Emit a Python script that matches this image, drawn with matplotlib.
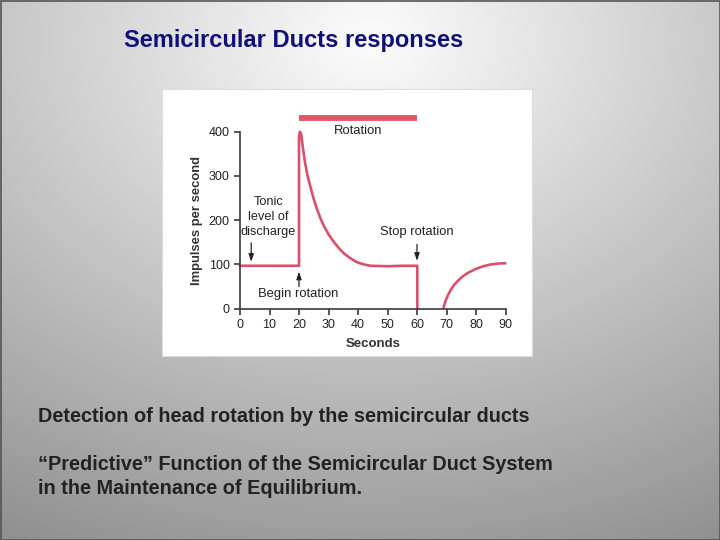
import numpy as np
import matplotlib.pyplot as plt
from matplotlib.patches import Rectangle

# curve (seconds, impulses per second)
sec_before = [0, 20]
imp_before = [97, 97]
sec_rot = [20, 20, 20.3, 20.7, 21.2, 22, 22.8, 23.7, 24.8, 26, 27.1, 28.3, 30, 31.8, 33.5, 35.2,
           37.4, 39.7, 42, 44.2, 50, 55, 60.1, 60.1]
imp_rot = [97, 388, 400, 396, 370, 332, 303, 280, 252, 227, 207, 189, 168, 151, 137, 125,
           114, 105, 100, 97, 96, 97, 97, 0]
sec_after = [68.9, 69.5, 70.3, 71.4, 72.5, 74, 75.5, 77.5, 80, 82.5, 85, 87.5, 90.3]
imp_after = [0, 14, 28, 42, 53, 64, 73, 82, 90, 96, 100, 102, 103]

rotation_span = [20, 60]
x_ticks = [0, 10, 20, 30, 40, 50, 60, 70, 80, 90]
y_ticks = [0, 100, 200, 300, 400]

red = '#d9506a'
axis_col = '#3a3a3a'
plt.rcParams['font.family'] = ['Liberation Sans', 'DejaVu Sans']

fig = plt.figure(figsize=(7.2, 5.4), dpi=100)

# slide background: radial grey gradient
bg = fig.add_axes([0, 0, 1, 1])
yy, xx = np.mgrid[0:540, 0:720]
r = np.sqrt(((xx - 370) / 740.0) ** 2 + ((yy - 40) / 560.0) ** 2)
shade = np.clip(0.99 - 0.42 * r, 0, 1)
bg.imshow(np.dstack([shade] * 3), extent=[0, 720, 540, 0], aspect='auto')
bg.set_xlim(0, 720)
bg.set_ylim(540, 0)
bg.axis('off')
bg.add_patch(Rectangle((0.5, 0.5), 719, 539, fill=False, ec='#555555', lw=1.2))
# white picture box
bg.add_patch(Rectangle((162, 89), 370, 267, fc='white', ec='#dddddd', lw=0.8))

bg.text(124, 40, 'Semicircular Ducts responses', color='#10107a', fontsize=17,
        fontweight='bold', va='center', ha='left')
bg.text(38, 416, 'Detection of head rotation by the semicircular ducts', color='#222222',
        fontsize=14.3, fontweight='bold', va='center', ha='left')
bg.text(38, 464, '\u201cPredictive\u201d Function of the Semicircular Duct System',
        color='#222222', fontsize=14.3, fontweight='bold', va='center', ha='left')
bg.text(38, 489, 'in the Maintenance of Equilibrium.', color='#222222',
        fontsize=14.3, fontweight='bold', va='center', ha='left')

# chart
ax = fig.add_axes([240 / 720, 1 - 308.7 / 540, 265.5 / 720, 177 / 540])
ax.set_facecolor('none')
ax.set_xlim(0, 90)
ax.set_ylim(0, 400)
ax.plot(sec_before + sec_rot, imp_before + imp_rot, color=red, lw=1.9, clip_on=False,
        solid_joinstyle='round')
ax.plot(sec_after, imp_after, color=red, lw=1.9, clip_on=False, solid_capstyle='butt')
ax.plot(rotation_span, [432, 432], color='#e05668', lw=4.2, clip_on=False,
        solid_capstyle='butt')

for s in ['top', 'right']:
    ax.spines[s].set_visible(False)
for s in ['left', 'bottom']:
    ax.spines[s].set_color(axis_col)
    ax.spines[s].set_linewidth(1.2)
ax.set_xticks(x_ticks)
ax.set_yticks(y_ticks)
ax.tick_params(colors=axis_col, labelcolor='#222222', labelsize=9, length=4, width=1.2, pad=3.5)
ax.set_xlabel('Seconds', fontsize=9.5, fontweight='bold', color='#333333', labelpad=5)
ax.set_ylabel('Impulses per second', fontsize=9.4, fontweight='bold', color='#333333', labelpad=4)

ax.text(40, 402, 'Rotation', fontsize=9.4, color='#222222', ha='center', va='center')
ax.text(9.6, 207, 'Tonic\nlevel of\ndischarge', fontsize=9.2, color='#222222',
        ha='center', va='center', linespacing=1.3)
ax.text(60, 174, 'Stop rotation', fontsize=9.4, color='#222222', ha='center', va='center')
ax.text(19.8, 34, 'Begin rotation', fontsize=9.4, color='#222222', ha='center', va='center')

arrow = dict(arrowstyle='-|>,head_length=0.45,head_width=0.15', color='#222222', lw=0.9,
             shrinkA=0, shrinkB=0)
ax.annotate('', xy=(3.8, 106), xytext=(3.8, 149), arrowprops=arrow)
ax.annotate('', xy=(60, 108), xytext=(60, 145), arrowprops=arrow)
ax.annotate('', xy=(20, 84), xytext=(20, 50), arrowprops=arrow)

fig.savefig('out.png', dpi=100)
